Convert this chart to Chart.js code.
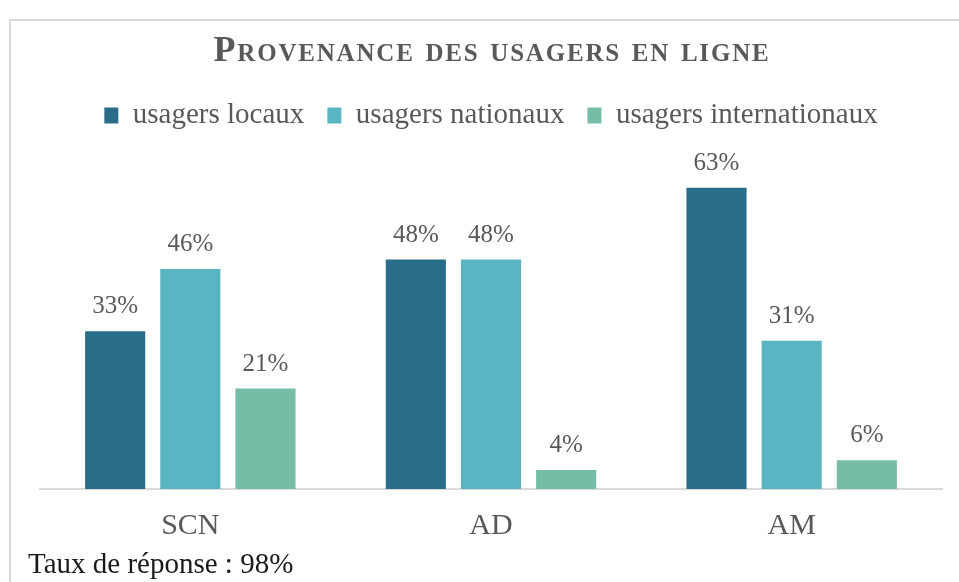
<!DOCTYPE html>
<html>
<head>
<meta charset="utf-8">
<script src="https://cdn.jsdelivr.net/npm/chart.js@4"></script>
<style>
  html, body { margin: 0; padding: 0; background: #fff; }
  #wrap { position: relative; width: 959px; height: 582px; overflow: hidden; }
  #frame { position: absolute; left: 9px; top: 19px; width: 1000px; height: 700px;
           border: 2px solid #d9d9d9; box-sizing: border-box; }
  canvas { position: absolute; left: 0; top: 0; }
</style>
</head>
<body>
<div id="wrap">
  <div id="frame"></div>
  <canvas id="chart" width="959" height="582"></canvas>
</div>
<script>
/* Provenance des usagers en ligne */
const categories = ['SCN', 'AD', 'AM'];
const seriesNames = ['usagers locaux', 'usagers nationaux', 'usagers internationaux'];
const locaux = [33, 48, 63];
const nationaux = [46, 48, 31];
const internationaux = [21, 4, 6];
const titleText = 'Provenance des usagers en ligne';
const footerText = 'Taux de réponse : 98%';

const COLORS = ['#296d89', '#59b5c1', '#75bda6'];
const FONT = "'Liberation Serif', 'Times New Roman', serif";
const GREY = '#595959';

// title drawn by hand: needs small caps + letter spacing
const titlePlugin = {
  id: 'titlePlugin',
  afterDraw(chart) {
    const ctx = chart.ctx;
    ctx.save();
    ctx.font = `small-caps bold 36px ${FONT}`;
    ctx.letterSpacing = '1.8px';
    ctx.fillStyle = GREY;
    ctx.textAlign = 'center';
    ctx.textBaseline = 'alphabetic';
    ctx.fillText(titleText, 492, 61);
    ctx.restore();
  },
};

const valueLabels = {
  id: 'valueLabels',
  afterDatasetsDraw(chart) {
    const ctx = chart.ctx;
    ctx.save();
    ctx.font = `25px ${FONT}`;
    ctx.fillStyle = GREY;
    ctx.textAlign = 'center';
    ctx.textBaseline = 'alphabetic';
    chart.data.datasets.forEach((ds, i) => {
      chart.getDatasetMeta(i).data.forEach((bar, j) => {
        ctx.fillText(ds.data[j] + '%', bar.x, bar.y - 18);
      });
    });
    ctx.restore();
  },
};

const footer = {
  id: 'footer',
  afterDraw(chart) {
    const ctx = chart.ctx;
    ctx.save();
    ctx.font = `29px ${FONT}`;
    ctx.fillStyle = '#1a1a1a';
    ctx.textAlign = 'left';
    ctx.textBaseline = 'middle';
    ctx.fillText(footerText, 28, 565);
    ctx.restore();
  },
};

new Chart(document.getElementById('chart'), {
  type: 'bar',
  data: {
    labels: categories,
    datasets: [locaux, nationaux, internationaux].map((d, i) => ({
      label: seriesNames[i],
      data: d,
      backgroundColor: COLORS[i],
      categoryPercentage: 0.75,
      barPercentage: 0.8,
    })),
  },
  options: {
    responsive: false,
    animation: false,
    layout: { padding: { left: 40, right: 17, top: 78, bottom: 0 } },
    plugins: {
      title: { display: false },
      legend: {
        display: true,
        position: 'top',
        labels: {
          color: GREY,
          font: { family: FONT, size: 29 },
          boxWidth: 14, boxHeight: 16, padding: 23,
        },
      },
      tooltip: { enabled: false },
    },
    scales: {
      x: {
        grid: { display: false, drawTicks: false },
        border: { display: true, color: '#d9d9d9', width: 2 },
        ticks: { color: GREY, font: { family: FONT, size: 30 }, padding: 19 },
        afterFit: s => { s.height = 93; },
      },
      y: {
        display: false,
        min: 0,
        max: 73,
      },
    },
  },
  plugins: [valueLabels, titlePlugin, footer],
});
</script>
</body>
</html>
